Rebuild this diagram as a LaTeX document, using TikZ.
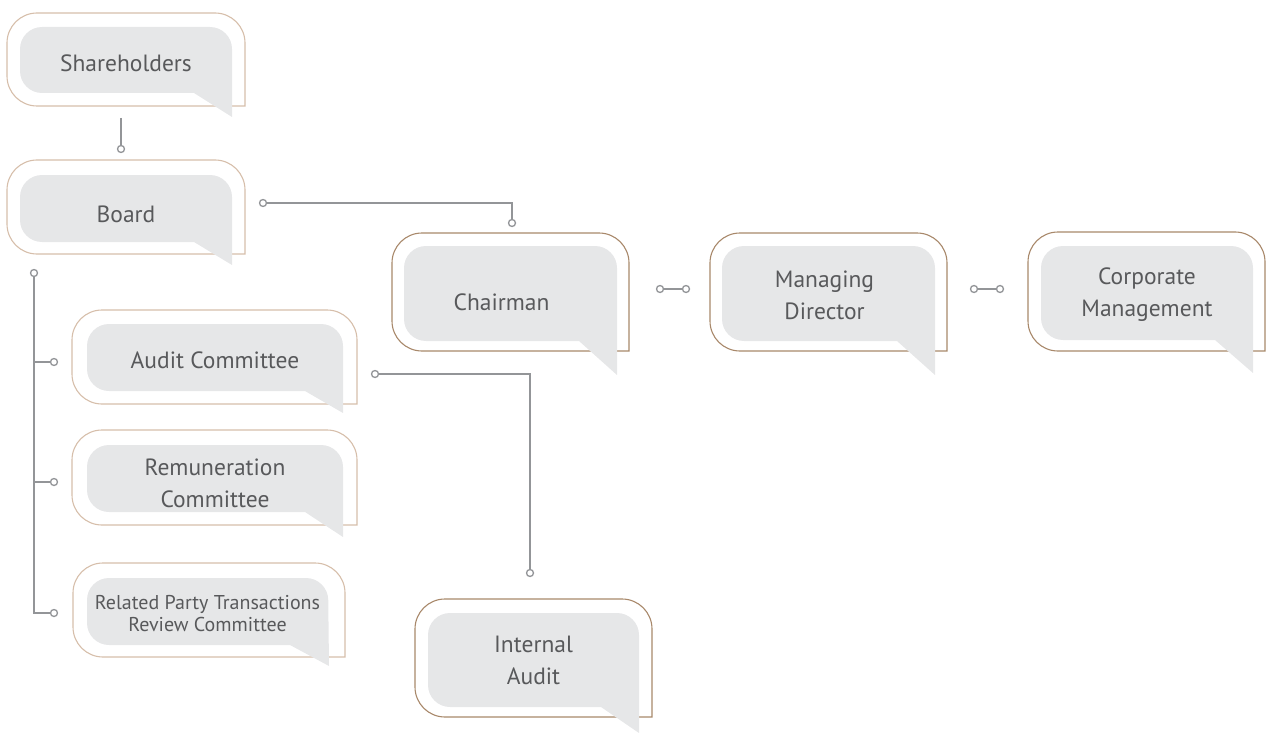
\documentclass[tikz,border=0pt]{standalone}
\usepackage{fontspec}
\setmainfont{PT Sans}
\usetikzlibrary{calc}
\definecolor{tanlight}{RGB}{214,190,170}
\definecolor{tandark}{RGB}{168,136,106}
\definecolor{bgray}{RGB}{230,231,232}
\definecolor{lgray}{RGB}{147,149,152}
\definecolor{tgray}{RGB}{88,89,91}
\tikzset{
  outline/.style={line width=1.1pt, line cap=rect, rounded corners=30pt},
  txt/.style={align=center, text=tgray, inner sep=0pt, font=\fontsize{23.5}{32}\selectfont},
  small/.style={font=\fontsize{20}{22.5}\selectfont},
  conn/.style={draw=lgray, line width=1.5pt},
  dot/.style={circle, draw=lgray, fill=white, line width=1.3pt, inner sep=0pt, minimum size=7pt},
}
% #1 name, #2 outer TL, #3 outer BR, #4 inner TL, #5 inner BR, #6 tail tip, #7 outline colour, #8 text, #9 text options
\newcommand\bubble[9]{%
  \coordinate (#1-a) at (#2); \coordinate (#1-b) at (#3);
  \coordinate (#1-c) at (#4); \coordinate (#1-d) at (#5); \coordinate (#1-t) at (#6);
  \draw[outline, draw=#7] (#1-b) -- (#1-a |- #1-b) -- (#1-a) -- (#1-b |- #1-a) -- (#1-b);
  \fill[bgray, rounded corners=22pt] ($(#1-d)+(-38,0)$) -- (#1-c |- #1-d) -- (#1-c) -- (#1-d |- #1-c) -- (#1-t);
  \node[txt, #9] (#1) at ($(#1-c)!0.5!(#1-d)$) {#8};
}
\begin{document}
\begin{tikzpicture}[x=1pt, y=-1pt]
\useasboundingbox (0,0) rectangle (1266,733);

\bubble{sh}{7,13}{245,106}{20,27}{232,93}{232,117}{tanlight}{Shareholders}{yshift=-3pt}
\bubble{board}{7,160}{245,254}{20,175}{232,242}{232,265}{tanlight}{Board}{yshift=-6pt}
\bubble{chair}{392,233}{629,351}{404,246}{617,341}{617,375}{tandark}{Chairman}{xshift=-9pt, yshift=-9pt}
\bubble{md}{710,233}{947,351}{722,246}{935,341}{935,375}{tandark}{Managing\\Director}{xshift=-4pt, yshift=-2pt}
\bubble{cm}{1028,232}{1265,351}{1041,246}{1253,340}{1253,373}{tandark}{Corporate\\Management}{yshift=-2pt}
\bubble{audit}{72,310}{357,404}{87,324}{343,391}{343,413}{tanlight}{Audit Committee}{yshift=-3pt}
\bubble{rem}{72,430}{357,525}{87,445}{343,512}{343,537}{tanlight}{Remuneration\\Committee}{yshift=-5pt}
\bubble{rpt}{73,563}{345,657}{87,578}{328,645}{329,666}{tanlight}{Related Party Transactions\\Review Committee}{small, yshift=-2pt}
\bubble{ia}{415,599}{652,717}{428,613}{639,707}{639,733}{tandark}{Internal\\Audit}{}

% connector end points
\coordinate (shdn) at (121,118);
\coordinate (bdup) at (121,149);
\coordinate (bdrt) at (263,203);
\coordinate (chup) at (512,223);
\coordinate (chrt) at (660,289);
\coordinate (mdlt) at (686,289);
\coordinate (mdrt) at (974,289);
\coordinate (cmlt) at (1000,289);
\coordinate (bddn) at (34,273);
\coordinate (aulf) at (54,362);
\coordinate (rmlf) at (54,482);
\coordinate (rplf) at (54,613);
\coordinate (aurt) at (375,374);
\coordinate (iaup) at (530,573);

\draw[conn] (shdn) -- (bdup);
\draw[conn] (bdrt) -| (chup);
\draw[conn] (chrt) -- (mdlt);
\draw[conn] (mdrt) -- (cmlt);
\draw[conn] (bddn) |- (rplf);
\draw[conn] (bddn |- aulf) -- (aulf);
\draw[conn] (bddn |- rmlf) -- (rmlf);
\draw[conn] (aurt) -| (iaup);

\foreach \p in {bdup,bdrt,chup,chrt,mdlt,mdrt,cmlt,bddn,aulf,rmlf,rplf,aurt,iaup}
  \node[dot] at (\p) {};
\end{tikzpicture}
\end{document}
